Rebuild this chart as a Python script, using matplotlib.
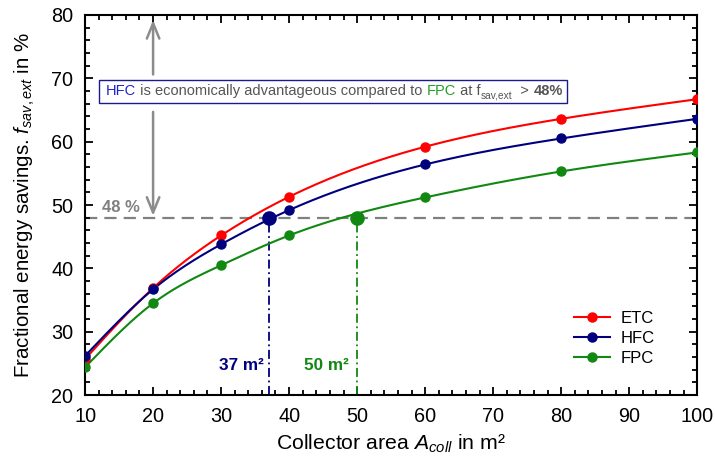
import numpy as np
import matplotlib
matplotlib.use("Agg")
import matplotlib.pyplot as plt
from matplotlib import transforms
from matplotlib.patches import Rectangle
from matplotlib.font_manager import FontProperties

plt.rcParams["font.family"] = ["Liberation Sans", "DejaVu Sans"]
plt.rcParams["mathtext.fontset"] = "custom"
plt.rcParams["mathtext.rm"] = "Liberation Sans"
plt.rcParams["mathtext.it"] = "Liberation Sans:italic"
plt.rcParams["mathtext.bf"] = "Liberation Sans:bold"

# Simulation results: fractional energy savings vs. collector area
area = [10, 20, 30, 40, 60, 80, 100]
etc = [25.7, 36.9, 45.2, 51.3, 59.2, 63.6, 66.7]
hfc = [26.2, 36.7, 43.8, 49.2, 56.4, 60.5, 63.6]
fpc = [24.4, 34.5, 40.5, 45.2, 51.2, 55.3, 58.3]
series_names = ["ETC", "HFC", "FPC"]

threshold = 48
hfc_area_at_threshold = 37
fpc_area_at_threshold = 50

x_ticks = [10, 20, 30, 40, 50, 60, 70, 80, 90, 100]
y_ticks = [20, 30, 40, 50, 60, 70, 80]

C_ETC = "#ff0000"
C_HFC = "#00007f"
C_FPC = "#118811"
C_GRAY = "#808080"
C_TXT = "#555555"


def natural_spline(x, y, num=300):
    x = np.asarray(x, float)
    y = np.asarray(y, float)
    n = len(x)
    h = np.diff(x)
    A = np.zeros((n, n))
    rhs = np.zeros(n)
    A[0, 0] = A[-1, -1] = 1.0
    for i in range(1, n - 1):
        A[i, i - 1] = h[i - 1]
        A[i, i] = 2 * (h[i - 1] + h[i])
        A[i, i + 1] = h[i]
        rhs[i] = 3 * ((y[i + 1] - y[i]) / h[i] - (y[i] - y[i - 1]) / h[i - 1])
    c = np.linalg.solve(A, rhs)
    b = (y[1:] - y[:-1]) / h - h * (2 * c[:-1] + c[1:]) / 3
    d = (c[1:] - c[:-1]) / (3 * h)
    xs = np.linspace(x[0], x[-1], num)
    idx = np.clip(np.searchsorted(x, xs, side="right") - 1, 0, n - 2)
    t = xs - x[idx]
    ys = y[idx] + b[idx] * t + c[idx] * t ** 2 + d[idx] * t ** 3
    return xs, ys


fig = plt.figure(figsize=(7.15, 4.66), dpi=100)
ax = fig.add_axes([0.119, 0.152, 0.856, 0.816])

ax.set_xlim(10, 100)
ax.set_ylim(20, 80)

# threshold line and markers
ax.axhline(threshold, color=C_GRAY, lw=1.6, ls=(0, (5.5, 3.2)), zorder=1)
ax.text(12.5, threshold + 0.35, "48 %", color=C_GRAY, fontsize=12,
        fontweight="bold", ha="left", va="bottom", zorder=2)

for vals, col, name in zip([etc, hfc, fpc], [C_ETC, C_HFC, C_FPC], series_names):
    xs, ys = natural_spline(area, vals)
    ax.plot(xs, ys, color=col, lw=1.5, zorder=3)
    ax.plot(area, vals, "o", color=col, ms=6.5, zorder=4)
    ax.plot([], [], "-o", color=col, lw=1.5, ms=6.5, label=name)

ax.plot([hfc_area_at_threshold, hfc_area_at_threshold], [20, threshold],
        color=C_HFC, lw=1.3, ls=(0, (5, 2, 1, 2)), zorder=2)
ax.plot([fpc_area_at_threshold, fpc_area_at_threshold], [20, threshold],
        color=C_FPC, lw=1.3, ls=(0, (5, 2, 1, 2)), zorder=2)
ax.plot([hfc_area_at_threshold], [threshold], "o", color=C_HFC, ms=9.5, zorder=5)
ax.plot([fpc_area_at_threshold], [threshold], "o", color=C_FPC, ms=9.5, zorder=5)

ax.text(hfc_area_at_threshold - 0.7, 23.9, "37 m²", color=C_HFC, fontsize=12.3,
        fontweight="bold", ha="right", va="baseline")
ax.text(fpc_area_at_threshold - 1.2, 23.9, "50 m²", color=C_FPC, fontsize=12.3,
        fontweight="bold", ha="right", va="baseline")

# double arrow marking the region above the threshold
arrow_kw = dict(arrowstyle="->,head_length=1.1,head_width=0.45", color="#8c8c8c",
                lw=1.8, shrinkA=0, shrinkB=0)
ax.annotate("", xy=(20, 79.2), xytext=(20, 70.6), arrowprops=arrow_kw, zorder=2)
ax.annotate("", xy=(20, 48.3), xytext=(20, 64.7), arrowprops=arrow_kw, zorder=2)

# annotation box with multi-coloured text
ax.add_patch(Rectangle((12.05, 66.1), 68.85, 3.65, facecolor="white",
                       edgecolor="#1a1a8c", lw=1.0, zorder=6))

fig.canvas.draw()
renderer = fig.canvas.get_renderer()


def advance(s, size, weight="normal"):
    fp = FontProperties(family=["Liberation Sans", "DejaVu Sans"], size=size, weight=weight)
    w1, _, _ = renderer.get_text_width_height_descent("x" + s + "x", fp, ismath=False)
    w0, _, _ = renderer.get_text_width_height_descent("xx", fp, ismath=False)
    return w1 - w0


pieces = [
    ("HFC", "#2222cc", 10.5, "normal", 0),
    (" is economically advantageous compared to ", C_TXT, 10.5, "normal", 0),
    ("FPC", "#22a022", 10.5, "normal", 0),
    (" at f", C_TXT, 10.5, "normal", 0),
    ("sav,ext", C_TXT, 7.3, "normal", -4.5),
    ("  > ", C_TXT, 10.5, "normal", 0),
    ("48%", C_TXT, 10.5, "bold", 0),
]
dx = 0.0
for s, col, size, weight, dy in pieces:
    tr = transforms.offset_copy(ax.transData, x=dx, y=dy, units="dots")
    ax.text(13.1, 67.4, s, color=col, fontsize=size, fontweight=weight,
            ha="left", va="baseline", transform=tr, zorder=7)
    dx += advance(s, size, weight)

ax.set_xticks(x_ticks)
ax.set_yticks(y_ticks)
ax.set_xticks(np.arange(10, 101, 2), minor=True)
ax.set_yticks(np.arange(20, 81, 2), minor=True)
ax.tick_params(which="both", direction="in", top=True, right=True, width=1.3,
               labelsize=14.3, colors="black")
ax.tick_params(which="major", length=6, pad=8.5)
ax.tick_params(which="minor", length=3.5)
for sp in ax.spines.values():
    sp.set_linewidth(1.5)

ax.set_xlabel(r"Collector area $A_{coll}$ in m²", fontsize=15.3, labelpad=5)
ax.set_ylabel(r"Fractional energy savings. $f_{sav,ext}$ in %", fontsize=14.8, labelpad=10)

ax.legend(loc="lower right", bbox_to_anchor=(0.955, 0.037), frameon=False,
          fontsize=12, handlelength=2.2, handletextpad=0.6, labelspacing=0.3)

fig.savefig("out.png", dpi=100)
